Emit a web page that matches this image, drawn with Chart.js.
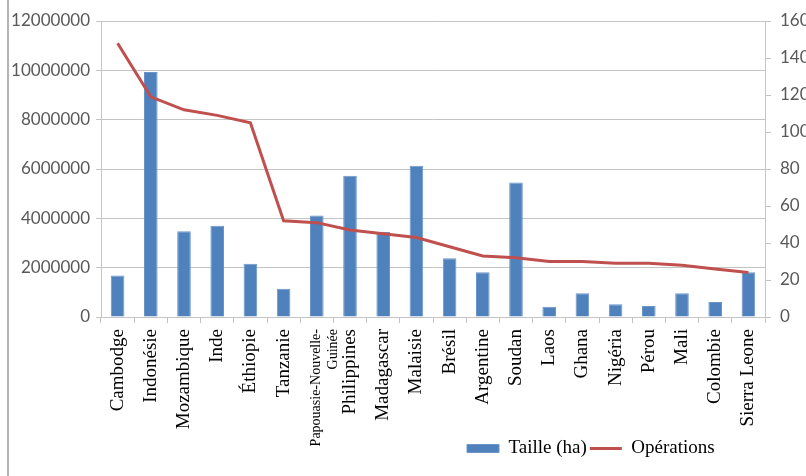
<!DOCTYPE html>
<html>
<head>
<meta charset="utf-8">
<script src="https://cdn.jsdelivr.net/npm/chart.js@4/dist/chart.umd.min.js"></script>
<style>
  body { margin: 0; background: #fff; }
  #wrap { position: relative; width: 806px; height: 476px; }
  #edge { position: absolute; left: 7px; top: 0; bottom: 0; border-left: 2px solid #b4b4b4; }
</style>
</head>
<body>
<div id="wrap">
  <div id="edge"></div>
  <canvas id="landChart" width="806" height="476"></canvas>
</div>
<script>
const pays = ['Cambodge', 'Indonésie', 'Mozambique', 'Inde', 'Éthiopie', 'Tanzanie',
  ['Papouasie-Nouvelle-', 'Guinée'], 'Philippines', 'Madagascar', 'Malaisie', 'Brésil',
  'Argentine', 'Soudan', 'Laos', 'Ghana', 'Nigéria', 'Pérou', 'Mali', 'Colombie', 'Sierra Leone'];

// surface en hectares
const taille = [1680000, 9930000, 3480000, 3700000, 2160000, 1150000, 4110000, 5730000,
  3450000, 6130000, 2380000, 1810000, 5450000, 420000, 960000, 520000, 450000, 960000,
  610000, 1810000];

// nombre d'opérations
const operations = [148, 119, 112, 109, 105, 52, 51, 47, 45, 43, 38, 33, 32, 30, 30, 29, 29,
  28, 26, 24];

const tailleTicks = { min: 0, max: 12000000, step: 2000000 };
const operationsTicks = { min: 0, max: 160, step: 20 };

const gris = '#c4c4c4';
const sans = 'Lato, "Liberation Sans", sans-serif';
const serif = '"Liberation Serif", "DejaVu Serif", serif';

// légende en bas à droite ; les noms de pays peuvent descendre jusqu'en bas
const miseEnPage = {
  id: 'miseEnPage',
  afterLayout(chart) {
    const lg = chart.legend;
    if (lg) {
      const h = lg.bottom - lg.top;
      lg.left = 464;
      lg.right = 806;
      lg.top = 436;
      lg.bottom = 436 + h;
    }
    chart.scales.x.bottom = chart.height;
  }
};

const ctx = document.getElementById('landChart').getContext('2d');
new Chart(ctx, {
  type: 'bar',
  data: {
    labels: pays,
    datasets: [{
      label: 'Taille (ha)',
      data: taille,
      backgroundColor: '#4f81bd',
      borderColor: '#6a95c9',
      borderWidth: 1,
      barPercentage: 0.41,
      categoryPercentage: 1,
      yAxisID: 'y',
      order: 1,
      pointStyle: 'rect'
    }, {
      type: 'line',
      label: 'Opérations',
      data: operations,
      borderColor: '#c0504d',
      backgroundColor: '#c0504d',
      borderWidth: 3,
      pointRadius: 0,
      tension: 0,
      yAxisID: 'y1',
      order: 0,
      pointStyle: 'line'
    }]
  },
  options: {
    responsive: false,
    animation: false,
    layout: { padding: { top: 21, bottom: 0, left: 0, right: 0 } },
    plugins: {
      tooltip: { enabled: false },
      legend: {
        position: 'bottom',
        align: 'start',
        labels: {
          usePointStyle: true,
          pointStyleWidth: 32,
          boxHeight: 8,
          padding: 3,
          color: '#000',
          font: { family: serif, size: 19 },
          sort: (a, b) => a.datasetIndex - b.datasetIndex
        }
      }
    },
    scales: {
      x: {
        grid: { display: true, drawOnChartArea: false, offset: true, color: gris, tickLength: 6 },
        border: { color: gris },
        ticks: {
          autoSkip: false,
          maxRotation: 90,
          minRotation: 90,
          padding: 6,
          color: '#000',
          font: (c) => c.index === 6 ? { family: serif, size: 14 } : { family: serif, size: 19 }
        },
        afterFit: (scale) => { scale.height = 127; }
      },
      y: {
        position: 'left',
        min: tailleTicks.min,
        max: tailleTicks.max,
        grid: { color: gris, tickLength: 5 },
        border: { color: gris },
        ticks: {
          stepSize: tailleTicks.step,
          padding: 6,
          color: '#595959',
          font: { family: sans, size: 17 },
          callback: (v) => String(v)
        },
        afterFit: (scale) => { scale.width = 101; }
      },
      y1: {
        position: 'right',
        min: operationsTicks.min,
        max: operationsTicks.max,
        grid: { drawOnChartArea: false, color: gris, tickLength: 6 },
        border: { color: gris },
        ticks: {
          stepSize: operationsTicks.step,
          padding: 9,
          color: '#595959',
          font: { family: sans, size: 17 },
          callback: (v) => String(v)
        },
        afterFit: (scale) => { scale.width = 41; }
      }
    }
  },
  plugins: [miseEnPage]
});
</script>
</body>
</html>
